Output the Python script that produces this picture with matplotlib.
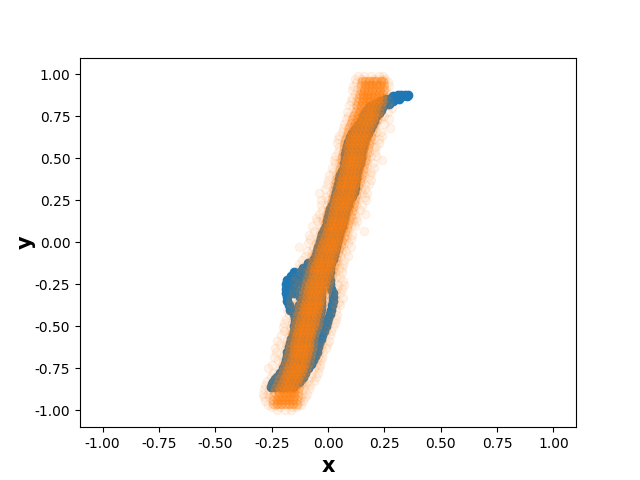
import matplotlib
matplotlib.use("Agg")
import matplotlib.pyplot as plt

# Values: each y level has its own list of x values.
blue_levels = [0.88, 0.87, 0.855, 0.84, 0.825, 0.81, 0.79, 0.77, 0.75, 0.725, 0.70, 0.675, 0.65, 0.625,
               0.60, 0.575, 0.55, 0.525, 0.50, 0.475, 0.45, 0.425, 0.40, 0.375, 0.35, 0.325, 0.30, 0.275,
               0.25, 0.225, 0.20, 0.175, 0.15, 0.125, 0.10, 0.075, 0.05, 0.025, 0.0, -0.025, -0.05, -0.075,
               -0.10, -0.125, -0.15, -0.175, -0.20, -0.225, -0.25, -0.275, -0.30, -0.325, -0.35, -0.375,
               -0.40, -0.425, -0.45, -0.475, -0.50, -0.525, -0.55, -0.575, -0.60, -0.625, -0.65, -0.675,
               -0.70, -0.725, -0.75, -0.775, -0.80, -0.815, -0.83, -0.845, -0.86]
blue_rows = [[.355, .34, .325, .31], [.35, .33, .305, .29], [.315, .295, .27, .255], [.29, .27, .25, .23],
             [.27, .25, .23, .21], [.245, .225, .205, .185], [.235, .215, .195, .175], [.225, .205, .185, .165],
             [.215, .195, .175, .155], [.205, .185, .165, .145], [.195, .175, .155, .135], [.185, .165, .145, .12],
             [.178, .158, .138, .105], [.17, .15, .125, .098], [.16, .14, .115, .09], [.155, .135, .11, .085],
             [.15, .13, .105, .08], [.147, .127, .102, .077], [.145, .125, .10, .075], [.14, .12, .095, .072],
             [.135, .115, .09, .07], [.13, .11, .085, .062], [.125, .105, .08, .055], [.122, .10, .075, .05],
             [.12, .095, .07, .045], [.118, .09, .065, .04], [.115, .085, .06, .035], [.108, .08, .055, .03],
             [.095, .07, .05, .025], [.088, .063, .04, .017], [.08, .057, .033, .01], [.075, .052, .028, .005],
             [.07, .047, .023, .0], [.065, .042, .018, -.005], [.06, .037, .013, -.01], [.055, .03, .005, -.018],
             [.05, .025, .0, -.025], [.045, .02, -.005, -.03], [.04, .015, -.01, -.035], [.035, .008, -.018, -.043],
             [.03, .002, -.024, -.05], [.025, -.003, -.03, -.055], [.02, -.007, -.033, -.06],
             [.015, -.012, -.04, -.07, -.09], [.01, -.018, -.05, -.08, -.11],
             [.008, -.022, -.055, -.09, -.125, -.15], [.005, -.03, -.065, -.10, -.135, -.165],
             [.008, -.03, -.07, -.11, -.15, -.18], [.01, -.03, -.07, -.11, -.15, -.187],
             [.015, -.03, -.07, -.11, -.15, -.187], [.02, -.03, -.07, -.105, -.15, -.185],
             [.02, -.03, -.07, -.10, -.125, -.183], [.02, -.03, -.07, -.10, -.18], [.018, -.03, -.07, -.105, -.13, -.175],
             [.015, -.03, -.07, -.11, -.15, -.17], [.008, -.035, -.075, -.115, -.15], [.0, -.04, -.08, -.12, -.148],
             [-.005, -.045, -.085, -.125, -.148], [-.01, -.05, -.09, -.13, -.15], [-.018, -.055, -.095, -.135, -.152],
             [-.025, -.06, -.10, -.135, -.155], [-.032, -.07, -.11, -.14, -.162], [-.04, -.075, -.115, -.145, -.17],
             [-.045, -.08, -.12, -.15, -.175], [-.05, -.085, -.125, -.155, -.18], [-.058, -.095, -.13, -.16, -.182],
             [-.065, -.10, -.135, -.165, -.185], [-.077, -.11, -.14, -.17, -.192], [-.09, -.125, -.155, -.18, -.20],
             [-.10, -.135, -.165, -.19, -.212], [-.11, -.145, -.175, -.20, -.225], [-.12, -.15, -.18, -.21, -.235],
             [-.13, -.16, -.19, -.22, -.245], [-.145, -.175, -.20, -.23, -.25], [-.155, -.185, -.21, -.235, -.255]]

core_levels = [0.96, 0.935, 0.91, 0.885, 0.86, 0.835, 0.81, 0.785, 0.76, 0.735, 0.71, 0.685, 0.66, 0.635, 0.61,
               0.585, 0.56, 0.535, 0.51, 0.485, 0.46, 0.435, 0.41, 0.385, 0.36, 0.335, 0.31, 0.285, 0.26, 0.235,
               0.21, 0.185, 0.16, 0.135, 0.11, 0.085, 0.06, 0.035, 0.01, -0.015, -0.04, -0.065, -0.09, -0.115,
               -0.14, -0.165, -0.19, -0.215, -0.24, -0.265, -0.29, -0.315, -0.34, -0.365, -0.39, -0.415, -0.44,
               -0.465, -0.49, -0.515, -0.54, -0.565, -0.59, -0.615, -0.64, -0.665, -0.69, -0.715, -0.74, -0.765,
               -0.79, -0.815, -0.84, -0.865, -0.89, -0.915, -0.94, -0.96]
core_rows = [[.165, .18, .20, .215, .235], [.162, .18, .197, .213, .232], [.16, .177, .195, .212, .23],
             [.157, .175, .19, .21, .226], [.155, .172, .188, .205, .222], [.152, .168, .185, .202, .22],
             [.148, .165, .18, .197, .215], [.142, .16, .177, .192, .21], [.135, .153, .172, .187, .205],
             [.127, .146, .165, .18, .198], [.12, .138, .157, .173, .19], [.112, .13, .15, .166, .183],
             [.107, .125, .143, .16, .178], [.103, .12, .138, .155, .172], [.097, .115, .133, .15, .167],
             [.093, .11, .128, .145, .163], [.09, .107, .123, .14, .158], [.087, .104, .12, .137, .155],
             [.084, .10, .117, .133, .15], [.08, .097, .113, .13, .147], [.076, .093, .108, .125, .143],
             [.072, .088, .104, .12, .138], [.067, .083, .10, .115, .133], [.062, .078, .095, .11, .128],
             [.057, .073, .09, .106, .122], [.052, .068, .085, .101, .117], [.047, .063, .08, .096, .112],
             [.042, .058, .075, .091, .107], [.037, .053, .07, .086, .102], [.032, .048, .065, .081, .097],
             [.027, .043, .06, .076, .092], [.022, .038, .055, .071, .087], [.017, .033, .05, .066, .082],
             [.012, .028, .045, .061, .077], [.007, .023, .04, .056, .072], [.002, .018, .033, .05, .066],
             [-.005, .011, .027, .043, .059], [-.012, .004, .02, .036, .052], [-.018, -.002, .014, .03, .046],
             [-.025, -.009, .007, .023, .039], [-.031, -.015, .001, .017, .033], [-.038, -.022, -.006, .01, .026],
             [-.045, -.029, -.013, .003, .019], [-.05, -.034, -.018, -.002, .014], [-.056, -.04, -.024, -.008, .008],
             [-.061, -.045, -.029, -.013, .003], [-.066, -.05, -.034, -.018, -.002], [-.072, -.056, -.04, -.024, -.008],
             [-.078, -.062, -.046, -.03, -.014], [-.083, -.067, -.051, -.035, -.019], [-.088, -.072, -.056, -.04, -.024],
             [-.093, -.077, -.061, -.045, -.029], [-.098, -.082, -.066, -.05, -.034], [-.103, -.087, -.071, -.055, -.039],
             [-.108, -.092, -.076, -.06, -.044], [-.113, -.097, -.081, -.065, -.049], [-.118, -.102, -.086, -.07, -.054],
             [-.123, -.107, -.091, -.075, -.059], [-.128, -.112, -.096, -.08, -.064], [-.133, -.117, -.101, -.085, -.069],
             [-.138, -.122, -.106, -.09, -.074], [-.143, -.127, -.111, -.095, -.079], [-.147, -.131, -.115, -.099, -.083],
             [-.15, -.134, -.118, -.102, -.086], [-.153, -.137, -.121, -.105, -.089], [-.157, -.141, -.125, -.109, -.093],
             [-.161, -.145, -.129, -.113, -.097], [-.167, -.151, -.135, -.119, -.103], [-.173, -.157, -.141, -.125, -.109],
             [-.18, -.164, -.148, -.132, -.116], [-.188, -.172, -.156, -.14, -.124], [-.197, -.18, -.163, -.147, -.131],
             [-.205, -.188, -.171, -.154, -.138], [-.213, -.196, -.179, -.162, -.145], [-.218, -.20, -.183, -.166, -.15],
             [-.222, -.204, -.187, -.17, -.153], [-.225, -.207, -.19, -.173, -.155], [-.226, -.208, -.19, -.172, -.154]]

# Points along the two soft borders of the dense orange band, one pair per core level
edge_rows = [[.15, .245], [.147, .248], [.145, .247], [.142, .244], [.137, .24], [.133, .238], [.128, .233],
             [.122, .228], [.115, .223], [.107, .216], [.10, .208], [.092, .201], [.087, .196], [.083, .19],
             [.077, .185], [.073, .181], [.07, .176], [.067, .173], [.064, .168], [.06, .165], [.056, .161],
             [.052, .156], [.047, .151], [.042, .146], [.037, .14], [.032, .135], [.027, .13], [.022, .125],
             [.017, .12], [.012, .115], [.007, .11], [.002, .105], [-.003, .10], [-.008, .095], [-.013, .09],
             [-.018, .084], [-.025, .077], [-.032, .07], [-.038, .064], [-.045, .057], [-.051, .051], [-.058, .044],
             [-.065, .037], [-.07, .032], [-.076, .026], [-.081, .021], [-.086, .016], [-.092, .01], [-.098, .004],
             [-.103, -.001], [-.108, -.006], [-.113, -.011], [-.118, -.016], [-.123, -.021], [-.128, -.026],
             [-.133, -.031], [-.138, -.036], [-.143, -.041], [-.148, -.046], [-.153, -.051], [-.158, -.056],
             [-.163, -.061], [-.167, -.065], [-.17, -.068], [-.173, -.071], [-.177, -.075], [-.181, -.079],
             [-.187, -.085], [-.193, -.091], [-.20, -.098], [-.208, -.106], [-.217, -.113], [-.225, -.12],
             [-.233, -.127], [-.238, -.132], [-.242, -.135], [-.245, -.137], [-.245, -.137]]

halo_levels = [0.99, 0.975, 0.955, 0.93, 0.905, 0.885, 0.86, 0.84, 0.815, 0.80, 0.775, 0.755, 0.735, 0.705, 0.68,
               0.655, 0.635, 0.615, 0.59, 0.565, 0.54, 0.515, 0.49, 0.47, 0.445, 0.42, 0.40, 0.37, 0.345, 0.32,
               0.295, 0.27, 0.25, 0.225, 0.195, 0.17, 0.145, 0.125, 0.095, 0.07, 0.045, 0.02, -0.005, -0.03, -0.05,
               -0.08, -0.105, -0.13, -0.155, -0.175, -0.205, -0.23, -0.255, -0.28, -0.30, -0.33, -0.355, -0.375,
               -0.405, -0.43, -0.455, -0.48, -0.505, -0.53, -0.55, -0.585, -0.605, -0.63, -0.655, -0.68, -0.70,
               -0.73, -0.745, -0.775, -0.80, -0.825, -0.85, -0.875, -0.90, -0.92, -0.945, -0.965, -0.98, -0.995]
halo_rows = [[.135, .16, .19, .225, .245], [.118, .15, .205, .24, .252], [.125, .145, .25, .265], [.11, .14, .245, .27],
             [.13, .105, .25, .258], [.12, .138, .245, .262], [.105, .13, .24, .255], [.10, .125, .245, .27],
             [.095, .122, .23, .262], [.11, .13, .24, .285], [.085, .118, .225, .268], [.09, .112, .235, .25],
             [.078, .105, .23, .272], [.07, .098, .215, .25], [.065, .09, .21, .277], [.06, .085, .215, .235],
             [.05, .08, .195, .24], [.045, .075, .205, .225], [.04, .075, .185, .225], [.05, .07, .205, .215],
             [.045, .065, .18, .21], [.03, .06, .19, .215], [.025, .055, .175, .24], [.03, .05, .175, .20],
             [.018, .05, .165, .205], [.02, .045, .17, .19], [.005, .035, .16, .185], [.0, .03, .15, .19],
             [-.005, .025, .165, .18], [-.015, .02, .145, .165], [-.04, .012, .15, .175], [-.01, .02, .13, .165],
             [-.03, .0, .13, .17], [-.03, -.005, .125, .15], [-.025, .0, .115, .14], [-.04, -.01, .12, .163],
             [-.055, -.025, .105, .125], [-.05, -.02, .11, .13], [-.07, -.03, .10, .12], [-.06, -.035, .09, .16],
             [-.085, -.04, .085, .105], [-.08, -.05, .08, .10], [-.09, -.055, .07, .09], [-.13, -.065, .065, .10],
             [-.095, -.07, .06, .08], [-.10, -.075, .055, .09], [-.115, -.08, .045, .07], [-.13, -.085, .04, .065],
             [-.125, -.09, .05, .06], [-.12, -.095, .03, .06], [-.14, -.10, .035, .055], [-.15, -.105, .025, .065],
             [-.135, -.115, .045, .07], [-.155, -.12, .04, .06], [-.155, -.125, .035, .055], [-.165, -.13, .03, .065],
             [-.17, -.135, .02, .05], [-.165, -.14, .03, .055], [-.18, -.145, .015, .035], [-.175, -.15, .01, .04],
             [-.185, -.155, .005, .035], [-.195, -.16, .0, .03], [-.20, -.165, -.005, .02], [-.195, -.17, -.01, .015],
             [-.21, -.175, -.015, .01], [-.225, -.18, -.025, .005], [-.215, -.185, -.025, -.005], [-.235, -.19, -.03, -.01],
             [-.23, -.195, -.04, -.02], [-.24, -.20, -.045, -.025], [-.22, -.20, -.05, -.03], [-.25, -.205, -.055, -.035],
             [-.265, -.215, -.06, -.04], [-.245, -.22, -.07, -.045], [-.255, -.23, -.075, -.055], [-.27, -.24, -.09, -.06],
             [-.28, -.25, -.10, -.08], [-.285, -.26, -.105, -.085], [-.29, -.265, -.115, -.095], [-.285, -.26, -.12, -.10],
             [-.28, -.25, -.125, -.11], [-.265, -.235, -.135, -.12], [-.25, -.215, -.16, -.14], [-.225, -.19, -.165]]

x_ticks = [-1.00, -0.75, -0.50, -0.25, 0.00, 0.25, 0.50, 0.75, 1.00]
y_ticks = [-1.00, -0.75, -0.50, -0.25, 0.00, 0.25, 0.50, 0.75, 1.00]


def expand(levels, rows):
    xs, ys = [], []
    for level, row in zip(levels, rows):
        xs.extend(row)
        ys.extend([level] * len(row))
    return xs, ys


fig, ax = plt.subplots(figsize=(6.4, 4.8), dpi=100)
ax.scatter(*expand(blue_levels, blue_rows), color="C0")
ax.scatter(*expand(halo_levels, halo_rows), color="C1", alpha=0.08)
ax.scatter(*expand(core_levels, edge_rows), color="C1", alpha=0.22)
ax.scatter(*expand(core_levels, core_rows), color="C1", alpha=0.35)
ax.set_xlim(-1.1, 1.1)
ax.set_ylim(-1.1, 1.1)
ax.set_xticks(x_ticks, [f"{t:.2f}" for t in x_ticks])
ax.set_yticks(y_ticks, [f"{t:.2f}" for t in y_ticks])
ax.set_xlabel("x", fontsize=15, fontweight="bold")
ax.set_ylabel("y", fontsize=15, fontweight="bold", labelpad=-1)
fig.savefig("out.png", dpi=100)
